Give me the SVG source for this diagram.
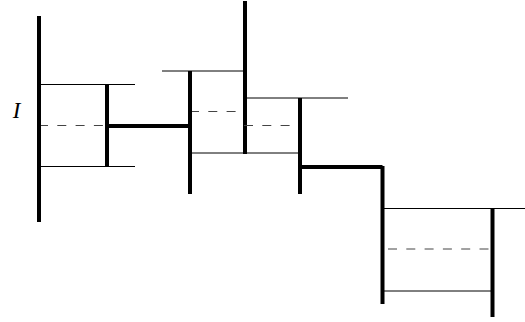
<svg xmlns="http://www.w3.org/2000/svg" width="525" height="322" viewBox="0 0 525 322">
<style>
.thick{stroke:#000;stroke-width:4;fill:none}
.thin{stroke:#000;stroke-width:1;fill:none}
.dash{stroke:#444;stroke-width:1;stroke-dasharray:9,9.3;fill:none}
.lbl{font-family:"Liberation Serif",serif;font-style:italic;font-size:23px;fill:#000}
</style>
<rect width="525" height="322" fill="#fff"/>
<text class="lbl" x="16.5" y="118" text-anchor="middle">I</text>
<g id="box1">
<line class="thin" x1="39" y1="84.5" x2="135" y2="84.5"/>
<line class="thin" x1="39" y1="166.5" x2="135" y2="166.5"/>
<line class="dash" x1="39" y1="125.5" x2="106" y2="125.5"/>
<line class="thick" x1="39" y1="16" x2="39" y2="222"/>
<line class="thick" x1="107" y1="84" x2="107" y2="167"/>
</g>
<g id="box2">
<line class="thin" x1="162" y1="71" x2="245" y2="71"/>
<line class="thin" x1="190" y1="153" x2="300" y2="153"/>
<line class="dash" x1="190" y1="111.5" x2="243" y2="111.5"/>
<line class="thick" x1="190" y1="71" x2="190" y2="194"/>
<line class="thick" x1="245" y1="1" x2="245" y2="154"/>
</g>
<g id="box3">
<line class="thin" x1="245" y1="98" x2="348" y2="98"/>
<line class="dash" x1="244" y1="125.5" x2="298" y2="125.5"/>
<line class="thick" x1="300" y1="98" x2="300" y2="194"/>
</g>
<g id="box4">
<line class="thin" x1="382" y1="208.5" x2="525" y2="208.5"/>
<line class="thin" x1="382" y1="291" x2="492" y2="291"/>
<line class="dash" x1="388" y1="249" x2="490" y2="249"/>
<line class="thick" x1="382.5" y1="166" x2="382.5" y2="304"/>
<line class="thick" x1="492.5" y1="208" x2="492.5" y2="317"/>
</g>
<g id="connectors">
<line class="thick" x1="107" y1="126" x2="190" y2="126"/>
<line class="thick" x1="300" y1="167" x2="382.5" y2="167"/>
</g>
</svg>
